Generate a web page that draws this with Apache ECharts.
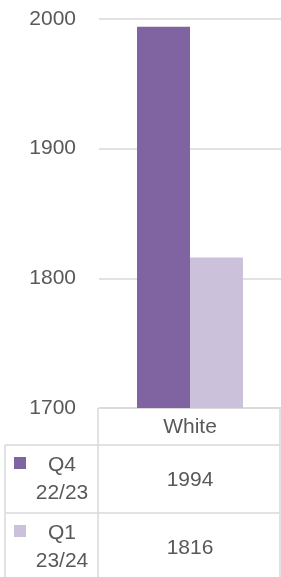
<!DOCTYPE html>
<html lang="en">
<head>
    <meta charset="utf-8" />
    <title></title>
    <script src="https://cdn.jsdelivr.net/npm/echarts@6/dist/echarts.min.js"></script>
    <style>
        html, body { margin: 0; padding: 0; background: #fff; }
    </style>
</head>
<body>
    <div id="main" style="width:281px;height:577px;"></div>
    <script>
        // data
        var categories = ['White'];
        var seriesNames = ['Q4 22/23', 'Q1 23/24'];
        var q4Values = [1994];
        var q1Values = [1816];
        var yTicks = [1700, 1800, 1900, 2000];

        var colors = ['#8064a2', '#ccc1da'];
        var textColor = '#595959';
        var lineColor = '#d9d9d9';
        var font = 'Liberation Sans';

        var myChart = echarts.init(document.getElementById('main'));

        var option = {
            animation: false,
            textStyle: { fontFamily: font },
            grid: { left: 99, right: 0, top: 19, bottom: 169 },
            xAxis: {
                type: 'category',
                data: categories,
                axisLine: { show: true, lineStyle: { color: lineColor, width: 1.5 } },
                axisTick: { show: false },
                axisLabel: { color: textColor, fontSize: 21, margin: 9, fontFamily: font }
            },
            yAxis: {
                type: 'value',
                min: yTicks[0],
                max: yTicks[yTicks.length - 1],
                interval: 100,
                axisLine: { show: false },
                axisTick: { show: false },
                axisLabel: { color: textColor, fontSize: 21, margin: 23, fontFamily: font,
                    formatter: function (v) { return String(v); } },
                splitLine: { lineStyle: { color: lineColor, width: 1.5 } }
            },
            series: [
                {
                    name: seriesNames[0],
                    type: 'bar',
                    data: q4Values,
                    barWidth: 53,
                    barGap: '0%',
                    itemStyle: { color: colors[0] }
                },
                {
                    name: seriesNames[1],
                    type: 'bar',
                    data: q1Values,
                    barWidth: 53,
                    barGap: '0%',
                    itemStyle: { color: colors[1] }
                }
            ]
        };
        myChart.setOption(option);

        // data table under the plot
        var rowTops = [445, 513];
        var rows = [q4Values, q1Values];
        var g = [];
        var line = function (x1, y1, x2, y2) {
            g.push({ type: 'line', shape: { x1: x1, y1: y1, x2: x2, y2: y2 },
                style: { stroke: lineColor, lineWidth: 1.5 }, silent: true });
        };
        line(5, 445, 280, 445);
        line(5, 513, 280, 513);
        line(98, 408, 98, 577);
        line(5, 445, 5, 577);
        line(280, 408, 280, 577);

        var cx = myChart.convertToPixel({ xAxisIndex: 0 }, categories[0]);
        for (var i = 0; i < seriesNames.length; i++) {
            var rt = rowTops[i];
            g.push({ type: 'rect', shape: { x: 14, y: rt + 12, width: 12, height: 12 },
                style: { fill: colors[i] }, silent: true });
            g.push({ type: 'text', x: 62, y: rt + 34,
                style: { text: seriesNames[i].split(' ').join('\n'), fill: textColor,
                    font: '21px "' + font + '"', align: 'center', verticalAlign: 'middle', lineHeight: 28 } });
            g.push({ type: 'text', x: cx, y: rt + 35,
                style: { text: String(rows[i][0]), fill: textColor,
                    font: '21px "' + font + '"', align: 'center', verticalAlign: 'middle' } });
        }
        myChart.setOption({ graphic: g });
    </script>
</body>
</html>
